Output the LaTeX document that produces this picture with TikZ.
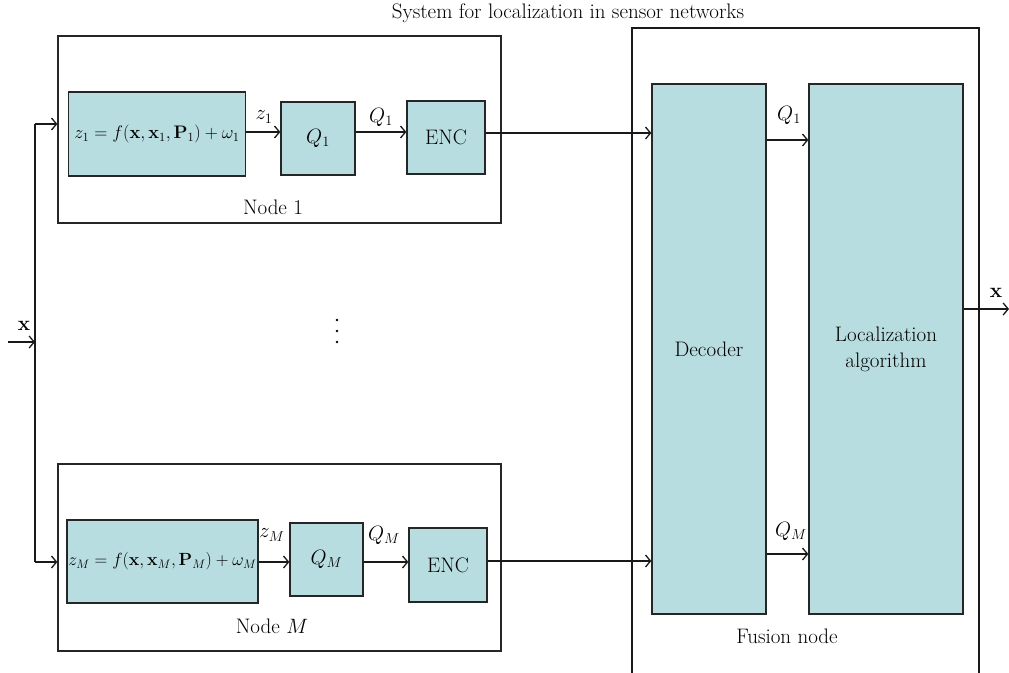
\documentclass[tikz,border=0pt]{standalone}
\usepackage{amsmath}
\usepackage{graphicx}
\usetikzlibrary{arrows.meta}
\begin{document}
\begin{tikzpicture}[x=1pt,y=-1pt,
  every node/.style={font=\fontsize{21}{26}\selectfont, inner sep=0pt},
  mathf/.style={font=\fontsize{17.28}{22}\selectfont},
  blk/.style={draw=black!85, line width=1.3pt, fill=tealbg, rectangle},
  frame/.style={draw=black!85, line width=1.3pt, rectangle},
  conn/.style={line width=1.3pt, draw=black!90},
  arr/.style={conn, -{Straight Barb[length=5pt,width=12pt]}},
]
\definecolor{tealbg}{RGB}{184,221,224}
\useasboundingbox (0,0) rectangle (1009,672);
\clip (0,0) rectangle (1009,672);

% title
\node (title) at (568,13) {System for localization in sensor networks};

% Node 1
\node[frame, minimum width=443pt, minimum height=187pt] (n1) at (279.5,129.5) {};
\node (n1lab) at (273,207) {Node 1};
\node[blk, mathf, minimum width=177pt, minimum height=84pt] (f1) at (157,134) {\scalebox{1.05}{$z_1 = f(\mathbf{x},\mathbf{x}_1,\mathbf{P}_1) + \omega_1$}};
\node[blk, minimum width=74pt, minimum height=73pt] (q1) at (318,138.5) {$Q_1$};
\node[blk, minimum width=78pt, minimum height=73pt] (e1) at (446,137.5) {ENC};
\node (z1lab) at (264,117) {$z_1$};
\node (q1lab) at (381,117) {$Q_1$};

% Node M
\node[frame, minimum width=443pt, minimum height=187pt] (nM) at (279.5,557.5) {};
\node (nMlab) at (272,626) {Node $M$};
\node[blk, mathf, minimum width=191pt, minimum height=83pt] (fM) at (162.5,561.5) {\scalebox{1.02}{$z_M = f(\mathbf{x},\mathbf{x}_M,\mathbf{P}_M) + \omega_M$}};
\node[blk, minimum width=73pt, minimum height=73pt] (qM) at (326.5,559.5) {$Q_M$};
\node[blk, minimum width=78pt, minimum height=74pt] (eM) at (448,565) {ENC};
\node (zMlab) at (272,535) {$z_M$};
\node (qMlab) at (384,535) {$Q_M$};

% dots
\fill (337,320) circle (1.4);
\fill (337,331) circle (1.4);
\fill (337,342) circle (1.4);

% fusion node frame (open at bottom)
\draw[conn] (632,690) -- (632,28) -- (979,28) -- (979,690);
\node (fuslab) at (787,636) {Fusion node};
\node[blk, minimum width=114pt, minimum height=530pt] (dec) at (709,349) {Decoder};
\node[blk, minimum width=154pt, minimum height=530pt, align=center] (loc) at (886,349) {Localization\\algorithm};
\node (fq1lab) at (789,115) {$Q_1$};
\node (fqMlab) at (791,531) {$Q_M$};

% input
\coordinate (xin) at (8,342);
\coordinate (xj) at (35,342);
\coordinate (t1) at (35,124);
\coordinate (tM) at (35,562);
\node (xlab) at (24,326) {$\mathbf{x}$};
\draw[arr] (xin) -- (xj);
\draw[conn] (t1) -- (tM);
\draw[arr] (t1) -- (t1 -| n1.west);
\draw[arr] (tM) -- (tM -| nM.west);

% node 1 connections
\draw[arr] ([yshift=2pt]f1.east) -- ([yshift=2pt]f1.east -| q1.west);
\draw[arr] ([yshift=6.5pt]q1.east) -- ([yshift=6.5pt]q1.east -| e1.west);
\draw[arr] ([yshift=4.5pt]e1.east) -- ([yshift=4.5pt]e1.east -| dec.west);

% node M connections
\draw[arr] ([yshift=-0.5pt]fM.east) -- ([yshift=-0.5pt]fM.east -| qM.west);
\draw[arr] ([yshift=-2.5pt]qM.east) -- ([yshift=-2.5pt]qM.east -| eM.west);
\draw[arr] ([yshift=4pt]eM.east) -- ([yshift=4pt]eM.east -| dec.west);

% fusion connections
\draw[arr] ([yshift=209pt]dec.east) -- ([yshift=209pt]dec.east -| loc.west);
\draw[arr] ([yshift=-205pt]dec.east) -- ([yshift=-205pt]dec.east -| loc.west);

% output
\coordinate (xout) at (1009,309);
\draw[arr] ([yshift=40pt]loc.east) -- (xout);
\node (xolab) at (996,293) {$\mathbf{x}$};
\end{tikzpicture}
\end{document}
